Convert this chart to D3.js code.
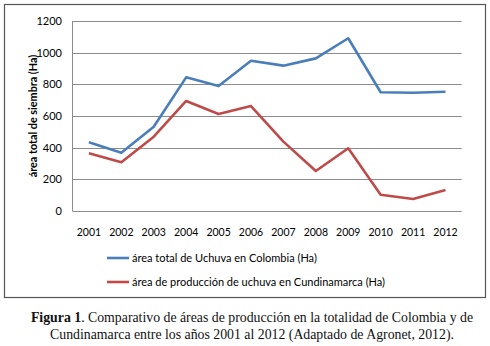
<!DOCTYPE html>
<html>
<head>
<meta charset="utf-8">
<script src="https://cdn.jsdelivr.net/npm/d3@7"></script>
<style>
body { margin: 0; background: #fff; }
svg { display: block; }
</style>
</head>
<body>
<div id="chart"></div>
<script>
// datos
var years = ["2001","2002","2003","2004","2005","2006","2007","2008","2009","2010","2011","2012"];
var colombia = [434, 368, 532, 844, 789, 949, 918, 964, 1091, 750, 747, 753];
var cundinamarca = [364, 308, 469, 695, 613, 663, 438, 253, 396, 103, 76, 133];
var yTicks = [0, 200, 400, 600, 800, 1000, 1200];
var seriesNames = ["área total de Uchuva en Colombia (Ha)", "área de producción de uchuva en Cundinamarca (Ha)"];
var colors = ["#4a7ebb", "#be4b48"];

var W = 490, H = 346;
var svg = d3.select("#chart").append("svg").attr("width", W).attr("height", H);

// marco del grafico
svg.append("rect").attr("x", 4.5).attr("y", 4.5).attr("width", 481).attr("height", 293)
  .attr("fill", "#fff").attr("stroke", "#555").attr("stroke-width", 1.2);

var x = d3.scaleBand().domain(years).range([72.7, 461.7]);
var y = d3.scaleLinear().domain([0, 1200]).range([211, 21]);

var sans = "Lato, 'Open Sans', sans-serif";

// rejilla
svg.selectAll(".grid").data(yTicks).enter().append("line")
  .attr("x1", 72.7).attr("x2", 461.7)
  .attr("y1", function(d) { return Math.round(y(d)) + 0.5; })
  .attr("y2", function(d) { return Math.round(y(d)) + 0.5; })
  .attr("stroke", "#8c8c8c").attr("stroke-width", 1);

// eje y
svg.append("line").attr("x1", 72.5).attr("x2", 72.5).attr("y1", 21).attr("y2", 211.5)
  .attr("stroke", "#8c8c8c");

svg.selectAll(".ylab").data(yTicks).enter().append("text")
  .attr("x", 62).attr("y", function(d) { return y(d); }).attr("dy", "0.35em")
  .attr("text-anchor", "end").attr("font-family", sans).attr("font-size", 11)
  .attr("fill", "#000").text(function(d) { return d; });

svg.selectAll(".xlab").data(years).enter().append("text")
  .attr("x", function(d) { return x(d) + x.bandwidth() / 2; }).attr("y", 232).attr("dy", "0.35em")
  .attr("text-anchor", "middle").attr("font-family", sans).attr("font-size", 10.5)
  .attr("fill", "#000").text(function(d) { return d; });

svg.append("text").attr("transform", "translate(33,116) rotate(-90)")
  .attr("text-anchor", "middle").attr("dy", "0.35em")
  .attr("font-family", sans).attr("font-weight", "bold").attr("font-size", 10.8)
  .text("área total de siembra (Ha)");

// lineas
var line = d3.line()
  .x(function(d, i) { return x(years[i]) + x.bandwidth() / 2; })
  .y(function(d) { return y(d); });

[colombia, cundinamarca].forEach(function(s, i) {
  svg.append("path").datum(s).attr("d", line).attr("fill", "none")
    .attr("stroke", colors[i]).attr("stroke-width", 2.6).attr("stroke-linejoin", "round");
});

// leyenda
var leg = svg.selectAll(".leg").data(seriesNames).enter().append("g")
  .attr("transform", function(d, i) { return "translate(107," + (258 + i * 24) + ")"; });
leg.append("line").attr("x1", 0).attr("x2", 22).attr("stroke", function(d, i) { return colors[i]; })
  .attr("stroke-width", 2.6);
leg.append("text").attr("x", 25).attr("dy", "0.35em").attr("font-family", sans).attr("font-size", 11)
  .text(function(d) { return d; });

// pie de figura
var serif = "'Liberation Serif', 'DejaVu Serif', serif";
var cap1 = svg.append("text").attr("x", 252).attr("y", 317).attr("dy", "0.35em")
  .attr("text-anchor", "middle").attr("font-family", serif).attr("font-size", 13.8).attr("fill", "#111");
cap1.append("tspan").attr("font-weight", "bold").text("Figura 1");
cap1.append("tspan").text(". Comparativo de áreas de producción en la totalidad de Colombia y de");
svg.append("text").attr("x", 252).attr("y", 334).attr("dy", "0.35em")
  .attr("text-anchor", "middle").attr("font-family", serif).attr("font-size", 13.8).attr("fill", "#111")
  .text("Cundinamarca entre los años 2001 al 2012 (Adaptado de Agronet, 2012).");
</script>
</body>
</html>
